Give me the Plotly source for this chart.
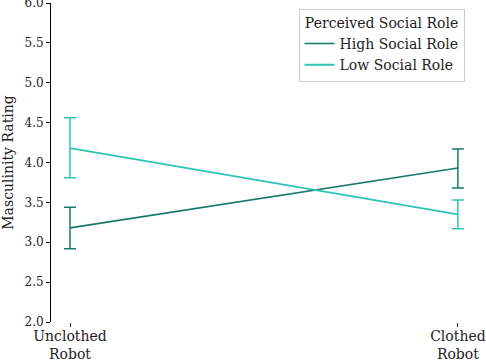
import plotly.graph_objects as go

# Masculinity rating by robot clothing and perceived social role
conditions = ["Unclothed<br>Robot", "Clothed<br>Robot"]

high_mean = [3.18, 3.93]
high_lower = [2.92, 3.68]
high_upper = [3.44, 4.17]

low_mean = [4.18, 3.35]
low_lower = [3.81, 3.17]
low_upper = [4.56, 3.53]

y_ticks = [2.0, 2.5, 3.0, 3.5, 4.0, 4.5, 5.0, 5.5, 6.0]

font = "DejaVu Serif"


def add_series(fig, name, mean, lower, upper, color, width):
    fig.add_trace(go.Scatter(
        x=conditions,
        y=mean,
        mode="lines",
        name=name,
        line=dict(color=color, width=width),
        error_y=dict(
            type="data",
            symmetric=False,
            array=[u - m for u, m in zip(upper, mean)],
            arrayminus=[m - l for m, l in zip(mean, lower)],
            color=color,
            thickness=1.5,
            width=6,
        ),
    ))


fig = go.Figure()
add_series(fig, "High Social Role", high_mean, high_lower, high_upper, "#17786c", 1.6)
add_series(fig, "Low Social Role", low_mean, low_lower, low_upper, "#2ec4b4", 1.8)

fig.update_layout(
    width=486,
    height=360,
    margin=dict(l=51, r=6, t=3, b=38),
    plot_bgcolor="white",
    paper_bgcolor="white",
    font=dict(family=font, size=12, color="#222222"),
    legend=dict(
        title=dict(text="Perceived Social Role", font=dict(size=14), side="top center"),
        x=0.577, y=0.982, xanchor="left", yanchor="top",
        bordercolor="#cccccc", borderwidth=1,
        bgcolor="white",
        font=dict(size=14),
        tracegroupgap=0,
    ),
)

fig.update_xaxes(
    type="category",
    range=[-0.049, 1.057],
    showline=False,
    showgrid=False,
    zeroline=False,
    ticks="outside",
    ticklen=4,
    tickcolor="#333333",
    tickfont=dict(size=14),
    ticklabelstandoff=-3,
    ticklabeloverflow="allow",
    automargin=False,
)

fig.update_yaxes(
    range=[2.0, 6.0],
    tickvals=y_ticks,
    ticktext=[f"{v:.1f}" for v in y_ticks],
    showline=True,
    linecolor="black",
    linewidth=1,
    showgrid=False,
    zeroline=False,
    ticks="outside",
    ticklen=4,
    tickcolor="black",
    tickfont=dict(size=12),
    ticklabeloverflow="allow",
    title=dict(text="Masculinity Rating", font=dict(size=14), standoff=8),
    automargin=False,
)

# the page body has a default 8px margin; drop it so the figure fills the window
fig.write_html(
    "out.html",
    config={"displayModeBar": False},
    post_script="document.body.style.margin='0';",
)
